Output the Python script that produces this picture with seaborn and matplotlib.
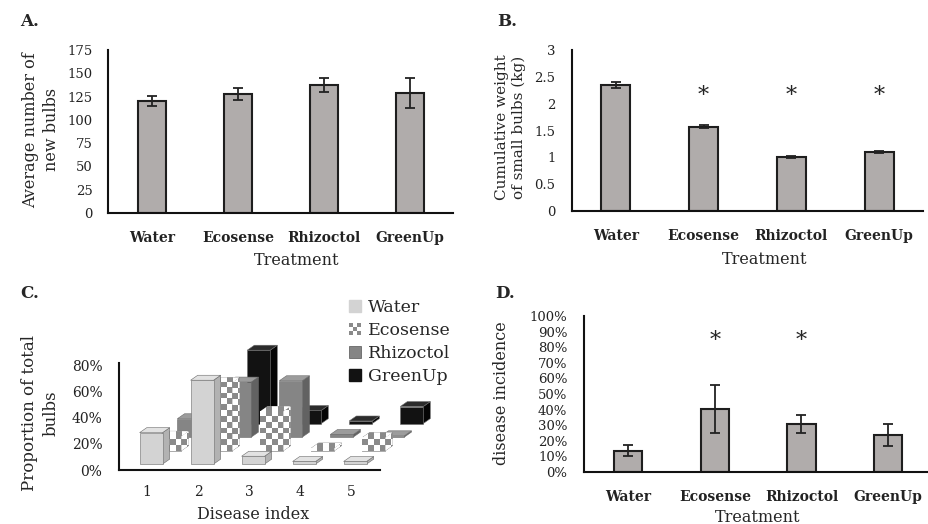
import numpy as np
import matplotlib
matplotlib.use("Agg")
import matplotlib.pyplot as plt
from matplotlib.patches import Polygon, Patch, Rectangle
from matplotlib.legend_handler import HandlerBase
from matplotlib.ticker import FuncFormatter
import seaborn as sns

# ---- data ----
treatments = ["Water", "Ecosense", "Rhizoctol", "GreenUp"]

new_bulbs = [120, 128, 137.5, 128.5]
new_bulbs_err = [5.5, 6.5, 7.5, 16]

small_weight = [2.35, 1.57, 1.01, 1.10]
small_weight_err = [0.05, 0.03, 0.02, 0.015]
weight_signif = [False, True, True, True]

incidence = [13.7, 40.4, 30.8, 23.7]
incidence_err = [3.7, 15.3, 5.9, 6.9]
incidence_signif = [False, True, True, False]

disease_index = [1, 2, 3, 4, 5]
prop_water = [24, 64, 6, 2, 2]
prop_ecosense = [11, 52, 30, 2, 10]
prop_rhizoctol = [14, 42, 43, 2, 1]
prop_greenup = [18, 56, 10, 2, 13]

sns.set_style("white")
plt.rcParams["font.family"] = ["DejaVu Serif"]

bar_col = "#b0acab"
edge_col = "#1e1e1e"
checker_cols = ["#ffffff", "#8a8a8a"]

fig = plt.figure(figsize=(9.29, 5.24), dpi=100)


def px_axes(l, t, r, b):
    return fig.add_axes([l / 929, 1 - b / 524, (r - l) / 929, (b - t) / 524])


def style_bar_axes(ax):
    sns.despine(ax=ax)
    for s in ("left", "bottom"):
        ax.spines[s].set_linewidth(1.5)
        ax.spines[s].set_color("#111111")
    ax.tick_params(length=0, labelsize=9.5, colors="#222222")
    for lab in ax.get_xticklabels():
        lab.set_fontweight("bold")
        lab.set_fontsize(10)


def treatment_bars(ax, vals, errs):
    sns.barplot(x=treatments, y=vals, color=bar_col, saturation=1, width=0.33,
                edgecolor=edge_col, linewidth=1.5, errorbar=None, ax=ax)
    ax.errorbar(np.arange(len(vals)), vals, yerr=errs, fmt="none",
                ecolor="#222222", elinewidth=1.3, capsize=3.3, capthick=1.3)


# ---- A ----
axA = px_axes(108, 50, 453, 213)
treatment_bars(axA, new_bulbs, new_bulbs_err)
axA.set_ylim(0, 175)
axA.set_yticks(range(0, 176, 25))
axA.set_xlim(-0.51, 3.5)
style_bar_axes(axA)
axA.tick_params(axis="x", pad=13)
axA.tick_params(axis="y", pad=11)
axA.set_xlabel("Treatment", fontsize=11.5)
axA.xaxis.set_label_coords(0.548, -0.24)
axA.set_ylabel("Average number of\nnew bulbs", fontsize=11.5, linespacing=1.3)
axA.yaxis.set_label_coords(-0.139, 0.51)

# ---- B ----
axB = px_axes(572, 50, 923, 211)
treatment_bars(axB, small_weight, small_weight_err)
axB.set_ylim(0, 3)
axB.set_yticks([0, 0.5, 1, 1.5, 2, 2.5, 3])
axB.yaxis.set_major_formatter(FuncFormatter(lambda v, p: f"{v:g}"))
axB.set_xlim(-0.5, 3.5)
style_bar_axes(axB)
axB.tick_params(axis="x", pad=13)
axB.tick_params(axis="y", pad=12)
for i, s in enumerate(weight_signif):
    if s:
        axB.text(i, 2.15, "*", ha="center", va="center", fontsize=16)
axB.set_xlabel("Treatment", fontsize=11.5)
axB.xaxis.set_label_coords(0.55, -0.25)
axB.set_ylabel("Cumulative weight\nof small bulbs (kg)", fontsize=11, linespacing=1.3)
axB.yaxis.set_label_coords(-0.13, 0.52)

# ---- D ----
axD = px_axes(584, 316, 928, 472)
treatment_bars(axD, incidence, incidence_err)
axD.set_ylim(0, 100)
axD.set_yticks(range(0, 101, 10))
axD.yaxis.set_major_formatter(FuncFormatter(lambda v, p: f"{v:.0f}%"))
axD.set_xlim(-0.51, 3.46)
style_bar_axes(axD)
axD.tick_params(axis="x", pad=13)
axD.tick_params(axis="y", pad=12)
for i, s in enumerate(incidence_signif):
    if s:
        axD.text(i, 84, "*", ha="center", va="center", fontsize=16)
axD.set_xlabel("Treatment", fontsize=11.5)
axD.xaxis.set_label_coords(0.506, -0.235)
axD.set_ylabel("disease incidence", fontsize=11.5)
axD.yaxis.set_label_coords(-0.215, 0.506)

# ---- C (Excel-like 3D columns) ----
axC = px_axes(119, 335, 440, 470)
series = [
    ("Water", prop_water, ("#d3d3d3", "#e2e2e2", "#b2b2b2"), False),
    ("Ecosense", prop_ecosense, ("#ffffff", "#ffffff", "#ffffff"), True),
    ("Rhizoctol", prop_rhizoctol, ("#858585", "#9c9c9c", "#626262"), False),
    ("GreenUp", prop_greenup, ("#121212", "#2c2c2c", "#050505"), False),
]
bar_w = 0.45
row_dx, row_dy = 0.37, 10.3
depth_dx, depth_dy = 0.14, 3.8
base_y = 4.5
x_shift = 0.08
cell_x, cell_y = 0.115, 4.4


def checker_fill(ax, patch):
    ext = patch.get_path().get_extents(patch.get_patch_transform())
    nx = max(1, int(np.ceil(ext.width / cell_x)))
    ny = max(1, int(np.ceil(ext.height / cell_y)))
    board = (np.add.outer(np.arange(ny), np.arange(nx)) % 2).astype(float)
    im = ax.imshow(board, cmap=matplotlib.colors.ListedColormap(checker_cols),
                   extent=(ext.x0, ext.x0 + nx * cell_x, ext.y0, ext.y0 + ny * cell_y),
                   origin="lower", aspect="auto", interpolation="nearest", zorder=patch.get_zorder())
    im.set_clip_path(patch)


z = 2
for row in range(len(series) - 1, -1, -1):
    name, vals, (cf, ct, cs), checker = series[row]
    y0 = base_y + row * row_dy
    for idx, h in zip(disease_index, vals):
        x0 = idx + x_shift - bar_w / 2 + row * row_dx
        side = Polygon([(x0 + bar_w, y0), (x0 + bar_w + depth_dx, y0 + depth_dy),
                        (x0 + bar_w + depth_dx, y0 + h + depth_dy), (x0 + bar_w, y0 + h)],
                       closed=True, facecolor=cs, edgecolor="#6a6a6a", lw=0.4, zorder=z)
        top = Polygon([(x0, y0 + h), (x0 + bar_w, y0 + h),
                       (x0 + bar_w + depth_dx, y0 + h + depth_dy), (x0 + depth_dx, y0 + h + depth_dy)],
                      closed=True, facecolor=ct, edgecolor="#6a6a6a", lw=0.4, zorder=z)
        axC.add_patch(side)
        axC.add_patch(top)
        bars = axC.bar([x0], [h], bottom=y0, width=bar_w, align="edge", color=cf,
                       edgecolor="#6a6a6a", linewidth=0.4, zorder=z)
        if checker:
            checker_fill(axC, side)
            checker_fill(axC, top)
            checker_fill(axC, bars[0])
        z += 1

axC.set_xlim(1 - 28 / 51, 1 + (440 - 147) / 51)
axC.set_ylim(0, 103)
axC.set_xticks(disease_index)
axC.set_yticks([0, 20, 40, 60, 80])
axC.yaxis.set_major_formatter(FuncFormatter(lambda v, p: f"{v:.0f}%"))
sns.despine(ax=axC)
for s in ("left", "bottom"):
    axC.spines[s].set_linewidth(1.5)
    axC.spines[s].set_color("#111111")
axC.spines["left"].set_bounds(0, 82)
axC.spines["bottom"].set_bounds(1 - 28 / 51, 1 + (380 - 147) / 51)
axC.tick_params(length=0, labelsize=10, colors="#222222")
axC.tick_params(axis="x", pad=11)
axC.tick_params(axis="y", pad=12)
axC.set_xlabel("Disease index", fontsize=11.5)
axC.xaxis.set_label_coords(0.417, -0.27)
axC.set_ylabel("Proportion of total\nbulbs", fontsize=12, linespacing=1.35)
axC.yaxis.set_label_coords((60 - 119) / 321, (470 - 413) / 135)


class CheckerHandler(HandlerBase):
    def create_artists(self, legend, orig_handle, xdescent, ydescent, width, height, fontsize, trans):
        n = 3
        arts = []
        for i in range(n):
            for j in range(n):
                col = checker_cols[(i + j + 1) % 2]
                arts.append(Rectangle((-xdescent + i * width / n, -ydescent + j * height / n),
                                      width / n, height / n, facecolor=col, edgecolor="none",
                                      transform=trans))
        return arts


eco_handle = Patch(facecolor="white", label="Ecosense")
handles = [
    Patch(facecolor="#d3d3d3", edgecolor="#d3d3d3", label="Water"),
    eco_handle,
    Patch(facecolor="#858585", edgecolor="#555555", lw=0.5, label="Rhizoctol"),
    Patch(facecolor="#121212", edgecolor="#121212", label="GreenUp"),
]
fig.legend(handles=handles, loc="upper left", bbox_to_anchor=(340 / 929, 1 - 290 / 524),
           frameon=False, fontsize=12.5, handlelength=0.7, handleheight=0.7,
           handletextpad=0.4, labelspacing=0.35, borderpad=0,
           handler_map={eco_handle: CheckerHandler()})

# panel letters
for lab, (x, y) in zip(["A.", "B.", "C.", "D."], [(20, 22), (497, 22), (20, 293), (495, 293)]):
    fig.text(x / 929, 1 - y / 524, lab, fontsize=12, fontweight="bold", va="center")

fig.savefig("out.png", dpi=100)
